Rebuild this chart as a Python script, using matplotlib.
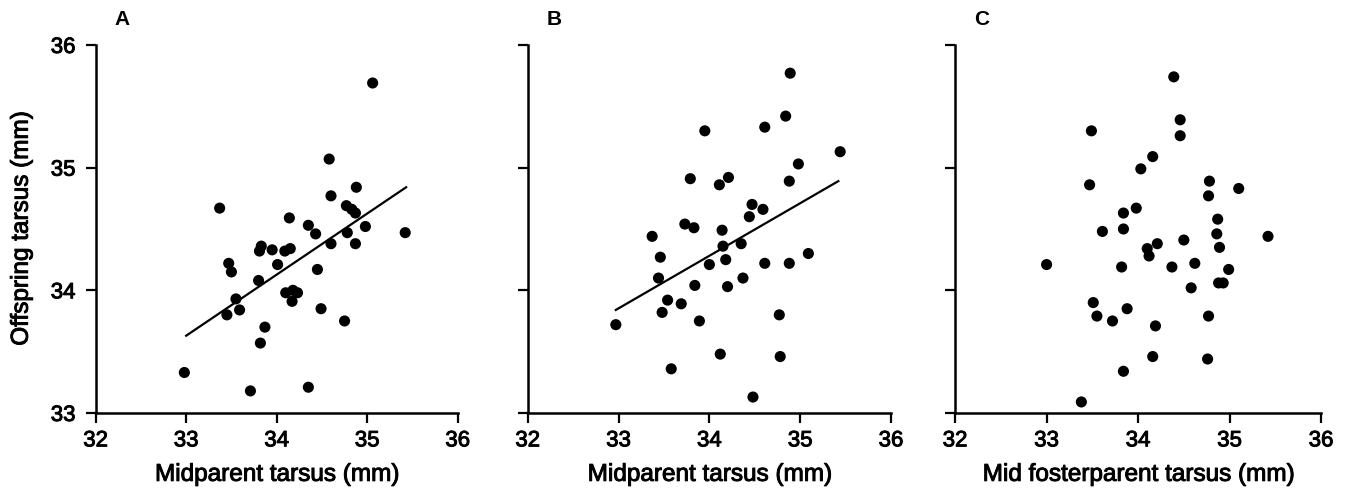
import matplotlib
matplotlib.use("Agg")
import matplotlib.pyplot as plt
import matplotlib.patheffects as pe
import numpy as np

# Panel A: midparent vs offspring tarsus
a_x = [35.06, 34.58, 34.88, 34.60, 34.77, 34.83, 34.87, 34.98, 35.42, 33.37,
       34.14, 34.35, 34.43, 34.78, 34.60, 34.87, 33.83, 33.81, 33.95, 34.09,
       34.15, 33.47, 33.50, 34.01, 34.45, 33.80, 33.55, 33.59, 33.45, 34.10,
       34.18, 34.23, 34.17, 34.49, 34.75, 33.87, 33.82, 32.98, 33.71, 34.35]
a_y = [35.69, 35.07, 34.84, 34.77, 34.69, 34.66, 34.63, 34.52, 34.47, 34.67,
       34.59, 34.53, 34.46, 34.47, 34.38, 34.38, 34.36, 34.32, 34.33, 34.32,
       34.34, 34.22, 34.15, 34.21, 34.17, 34.08, 33.93, 33.84, 33.80, 33.98,
       34.00, 33.98, 33.91, 33.85, 33.75, 33.70, 33.57, 33.33, 33.18, 33.21]
a_line_x = [33.0, 35.43]
a_line_y = [33.63, 34.84]

# Panel B: midparent vs offspring tarsus (second set)
b_x = [34.89, 34.84, 34.61, 33.95, 35.44, 34.98, 33.79, 34.21, 34.11, 34.88,
       34.47, 34.59, 34.44, 33.73, 33.83, 33.37, 34.14, 34.15, 34.35, 33.46,
       34.18, 34.00, 34.61, 34.88, 35.09, 33.44, 33.84, 34.20, 34.37, 33.54,
       33.69, 33.48, 33.89, 34.77, 32.97, 34.12, 34.78, 33.58, 34.48]
b_y = [35.77, 35.42, 35.33, 35.30, 35.13, 35.03, 34.91, 34.92, 34.86, 34.89,
       34.70, 34.66, 34.60, 34.54, 34.51, 34.44, 34.49, 34.36, 34.38, 34.27,
       34.25, 34.21, 34.22, 34.22, 34.30, 34.10, 34.04, 34.03, 34.10, 33.92,
       33.89, 33.82, 33.75, 33.80, 33.72, 33.48, 33.46, 33.36, 33.13]
b_line_x = [32.97, 35.42]
b_line_y = [33.84, 34.89]

# Panel C: mid fosterparent vs offspring tarsus
c_x = [34.39, 34.46, 34.46, 33.49, 34.16, 34.03, 33.47, 34.78, 34.77, 35.10,
       33.98, 33.84, 34.87, 33.61, 33.84, 35.42, 34.86, 34.50, 34.21, 34.10,
       34.12, 34.89, 33.00, 33.82, 34.37, 34.62, 34.99, 34.88, 34.93, 34.58,
       33.51, 33.88, 33.55, 33.72, 34.77, 34.19, 34.16, 34.76, 33.84, 33.38]
c_y = [35.74, 35.39, 35.26, 35.30, 35.09, 34.99, 34.86, 34.89, 34.77, 34.83,
       34.67, 34.63, 34.58, 34.48, 34.50, 34.44, 34.46, 34.41, 34.38, 34.34,
       34.28, 34.35, 34.21, 34.19, 34.19, 34.22, 34.17, 34.06, 34.06, 34.02,
       33.90, 33.85, 33.79, 33.75, 33.79, 33.71, 33.46, 33.44, 33.34, 33.09]

x_ticks = [32, 33, 34, 35, 36]
y_ticks = [33, 34, 35, 36]

plt.rcParams['font.family'] = ['Liberation Sans', 'DejaVu Sans']

# old print look: slightly heavier strokes on the text
heavy = [pe.withStroke(linewidth=0.7, foreground='black')]

fig = plt.figure(figsize=(13.49, 4.92), dpi=100)

panels = [
    (0.0709, 0.2684, a_x, a_y, a_line_x, a_line_y, 'A', 'Midparent tarsus (mm)'),
    (0.3912, 0.2693, b_x, b_y, b_line_x, b_line_y, 'B', 'Midparent tarsus (mm)'),
    (0.7080, 0.2713, c_x, c_y, None, None, 'C', 'Mid fosterparent tarsus (mm)'),
]

for i, (left, width, xs, ys, lx, ly, letter, xlabel) in enumerate(panels):
    ax = fig.add_axes([left, 0.1606, width, 0.748])
    ax.scatter(xs, ys, s=64, color='black', edgecolors='none', zorder=3)
    if lx is not None:
        ax.plot(lx, ly, color='black', linewidth=1.6)

    ax.set_xlim(32, 36)
    ax.set_ylim(33, 36)
    ax.spines['top'].set_visible(False)
    ax.spines['right'].set_visible(False)
    ax.spines['left'].set_linewidth(1.8)
    ax.spines['bottom'].set_linewidth(1.8)
    ax.set_xticks(x_ticks)
    ax.set_yticks(y_ticks)
    ax.tick_params(direction='out', length=7.5, width=1.6, labelsize=16)
    ax.tick_params(axis='x', pad=5)
    ax.tick_params(axis='y', pad=7)
    if i == 0:
        ax.set_ylabel('Offspring tarsus (mm)', fontsize=17.5, labelpad=13,
                      path_effects=heavy)
    else:
        ax.set_yticklabels([])
    ax.set_xlabel(xlabel, fontsize=17.5, labelpad=9, path_effects=heavy)
    for lab in ax.get_xticklabels() + ax.get_yticklabels():
        lab.set_path_effects(heavy)
    ax.text(0.072, 1.07, letter, transform=ax.transAxes, fontsize=15,
            fontweight='bold', ha='center', va='center')

fig.savefig('out.png', dpi=100)
